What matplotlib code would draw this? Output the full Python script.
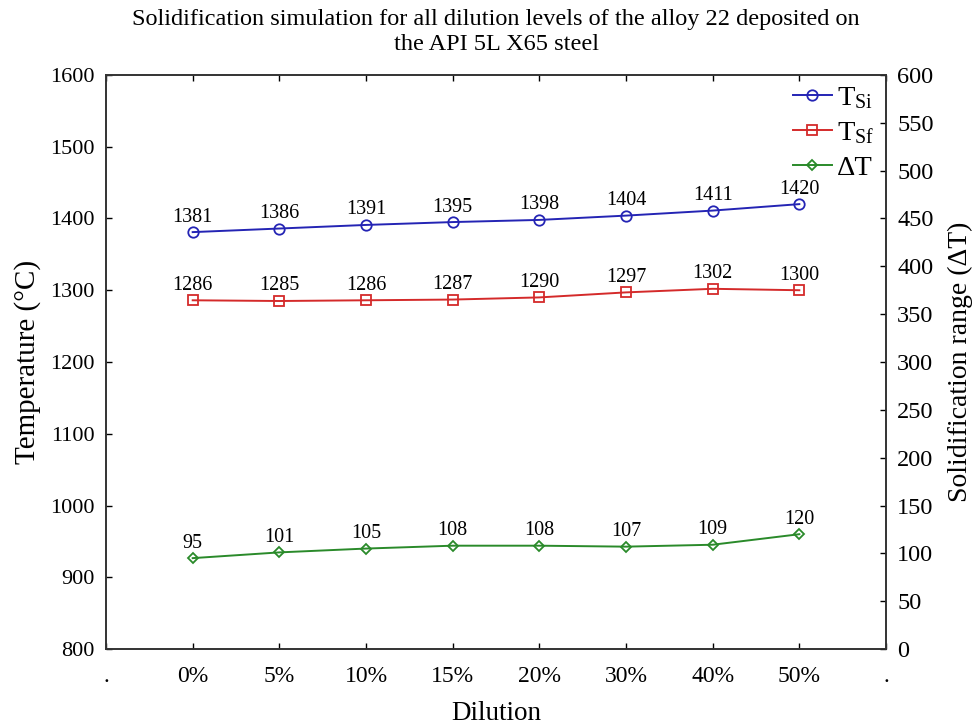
import matplotlib
matplotlib.use("Agg")
import matplotlib.pyplot as plt

plt.rcParams['font.family'] = ['Liberation Serif', 'DejaVu Serif']
plt.rcParams['mathtext.fontset'] = 'custom'
plt.rcParams['mathtext.rm'] = 'Liberation Serif'
plt.rcParams['mathtext.it'] = 'Liberation Serif:italic'

# Data
dilution = ['0%', '5%', '10%', '15%', '20%', '30%', '40%', '50%']
t_si = [1381, 1386, 1391, 1395, 1398, 1404, 1411, 1420]
t_sf = [1286, 1285, 1286, 1287, 1290, 1297, 1302, 1300]
delta_t = [95, 101, 105, 108, 108, 107, 109, 120]
tick_labels = ['.'] + dilution + ['.']

blue = '#2424b4'
red = '#d42a2a'
green = '#2a8a2a'

fig = plt.figure(figsize=(9.79, 7.25), dpi=100)
ax = fig.add_axes([0.1083, 0.1048, 0.7967, 0.7918])
ax2 = ax.twinx()

x = list(range(1, len(dilution) + 1))

l1, = ax.plot(x, t_si, color=blue, lw=1.4, marker='o', ms=7.5, mfc='none',
              mec=blue, mew=1.3, label=r'T$_{\mathrm{Si}}$')
l2, = ax.plot(x, t_sf, color=red, lw=1.4, marker='s', ms=7, mfc='none',
              mec=red, mew=1.3, label=r'T$_{\mathrm{Sf}}$')
l3, = ax2.plot(x, delta_t, color=green, lw=1.4, marker='D', ms=5.5, mfc='none',
               mec=green, mew=1.3, label='ΔT')

for xi, v in zip(x, t_si):
    ax.annotate(str(v), (xi, v), xytext=(0, 4), textcoords='offset points',
                ha='center', va='bottom', fontsize=14.5)
for xi, v in zip(x, t_sf):
    ax.annotate(str(v), (xi, v), xytext=(0, 4), textcoords='offset points',
                ha='center', va='bottom', fontsize=14.5)
for xi, v in zip(x, delta_t):
    ax2.annotate(str(v), (xi, v), xytext=(0, 4), textcoords='offset points',
                 ha='center', va='bottom', fontsize=14.5)

ax.set_xlim(0, len(dilution) + 1)
ax.set_ylim(800, 1600)
ax2.set_ylim(0, 600)
ax.set_xticks(range(len(tick_labels)))
ax.set_xticklabels(tick_labels)
ax.set_yticks(range(800, 1601, 100))
ax2.set_yticks(range(0, 601, 50))

ax.tick_params(axis='both', direction='in', length=4, width=1, top=True)
ax.tick_params(axis='y', labelsize=16, pad=8)
ax.tick_params(axis='x', labelsize=17, pad=12)
ax2.tick_params(axis='y', direction='in', labelsize=17.5, length=4, width=1, pad=8)

for a in (ax, ax2):
    for s in a.spines.values():
        s.set_linewidth(1.2)
        s.set_color('#333333')

ax.set_xlabel('Dilution', fontsize=19.5, labelpad=10)
ax.set_ylabel('Temperature (°C)', fontsize=21, labelpad=7)
ax2.set_ylabel('Solidification range (ΔT)', fontsize=20, labelpad=10)
ax.set_title('Solidification simulation for all dilution levels of the alloy 22 deposited on\n'
             'the API 5L X65 steel', fontsize=17.5, pad=18, linespacing=1.25)

leg = ax.legend(handles=[l1, l2, l3], loc='upper right', frameon=False,
                fontsize=20.5, handlelength=1.35, borderaxespad=0.0,
                bbox_to_anchor=(1.0, 1.002),
                labelspacing=0.32, handletextpad=0.2)

fig.savefig('out.png', dpi=100)
